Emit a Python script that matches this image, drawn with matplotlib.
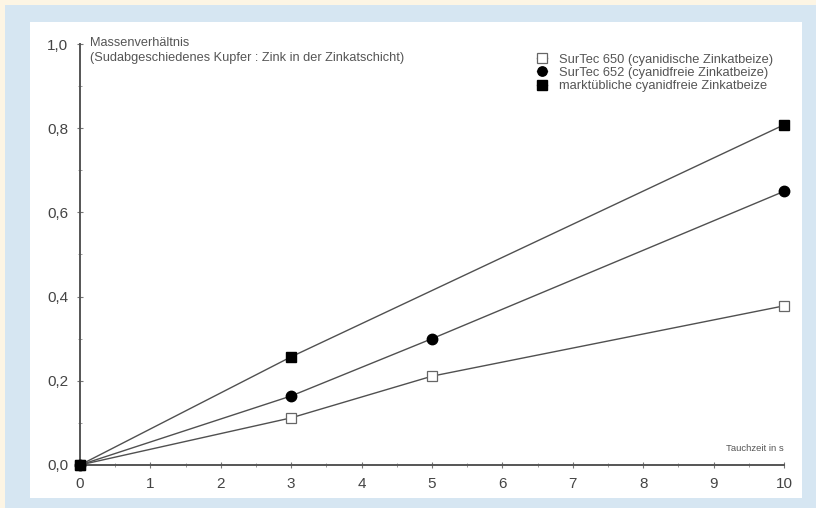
import matplotlib.pyplot as plt
from matplotlib.patches import Rectangle
from matplotlib.ticker import FuncFormatter, MultipleLocator

# Tauchzeit in s und Massenverhältnis je Beize
zeit_650 = [0, 3, 5, 10]
wert_650 = [0.0, 0.112, 0.211, 0.378]
zeit_652 = [0, 3, 5, 10]
wert_652 = [0.0, 0.164, 0.300, 0.650]
zeit_markt = [0, 3, 10]
wert_markt = [0.0, 0.257, 0.808]

namen = [
    "SurTec 650 (cyanidische Zinkatbeize)",
    "SurTec 652 (cyanidfreie Zinkatbeize)",
    "marktübliche cyanidfreie Zinkatbeize",
]
x_ticks = list(range(0, 11))
y_ticks = [0.0, 0.2, 0.4, 0.6, 0.8, 1.0]

plt.rcParams["font.family"] = ["Liberation Sans", "DejaVu Sans"]

fig = plt.figure(figsize=(8.16, 5.08), dpi=100)
fig.patch.set_facecolor("#fdf5e4")

# hellblauer Rahmen und weisse Zeichenfläche
fig.add_artist(Rectangle((5 / 816, 0), 811 / 816, 503 / 508,
                         transform=fig.transFigure, facecolor="#d6e6f2",
                         edgecolor="none", zorder=0))
fig.add_artist(Rectangle((30 / 816, 10 / 508), 772 / 816, 476 / 508,
                         transform=fig.transFigure, facecolor="white",
                         edgecolor="none", zorder=0))

ax = fig.add_axes([80 / 816, 43 / 508, 704 / 816, 421 / 508])
ax.set_facecolor("none")

linie = dict(color="#505050", lw=1.0, clip_on=False, zorder=3)
ax.plot(zeit_650, wert_650, marker="s", ms=7.5, mfc="white", mec="#666666",
        mew=0.9, label=namen[0], **linie)
ax.plot(zeit_652, wert_652, marker="o", ms=7.5, mfc="black", mec="black",
        label=namen[1], **linie)
ax.plot(zeit_markt, wert_markt, marker="s", ms=7.5, mfc="black", mec="black",
        label=namen[2], **linie)

ax.set_xlim(0, 10)
ax.set_ylim(0, 1.0)
ax.set_xticks(x_ticks)
ax.set_yticks(y_ticks)
ax.xaxis.set_minor_locator(MultipleLocator(0.5))
ax.yaxis.set_minor_locator(MultipleLocator(0.1))
ax.yaxis.set_major_formatter(FuncFormatter(lambda v, p: f"{v:.1f}".replace(".", ",")))

for s in ["top", "right"]:
    ax.spines[s].set_visible(False)
for s in ["left", "bottom"]:
    ax.spines[s].set_color("#555555")
    ax.spines[s].set_linewidth(1.4)

ax.tick_params(axis="both", which="major", direction="inout", length=5,
               width=0.8, color="#777777", labelsize=11, labelcolor="#444444",
               pad=6)
ax.tick_params(axis="both", which="minor", direction="inout", length=3,
               width=0.7, color="#999999")

ax.text(0.014, 1.017, "Massenverhältnis\n(Sudabgeschiedenes Kupfer : Zink in der Zinkatschicht)",
        transform=ax.transAxes, fontsize=9.2, color="#555555", va="top",
        ha="left", linespacing=1.3)
ax.text(1.0, 0.028, "Tauchzeit in s", transform=ax.transAxes, fontsize=6.8,
        color="#555555", ha="right", va="bottom")

ax.legend(loc="upper right", bbox_to_anchor=(0.997, 0.998), frameon=False,
          fontsize=9.3, labelcolor="#555555", handlelength=0.8,
          handletextpad=0.9, labelspacing=0.08, borderpad=0.2,
          markerscale=0.9)

fig.savefig("out.png", dpi=100, facecolor=fig.get_facecolor())
